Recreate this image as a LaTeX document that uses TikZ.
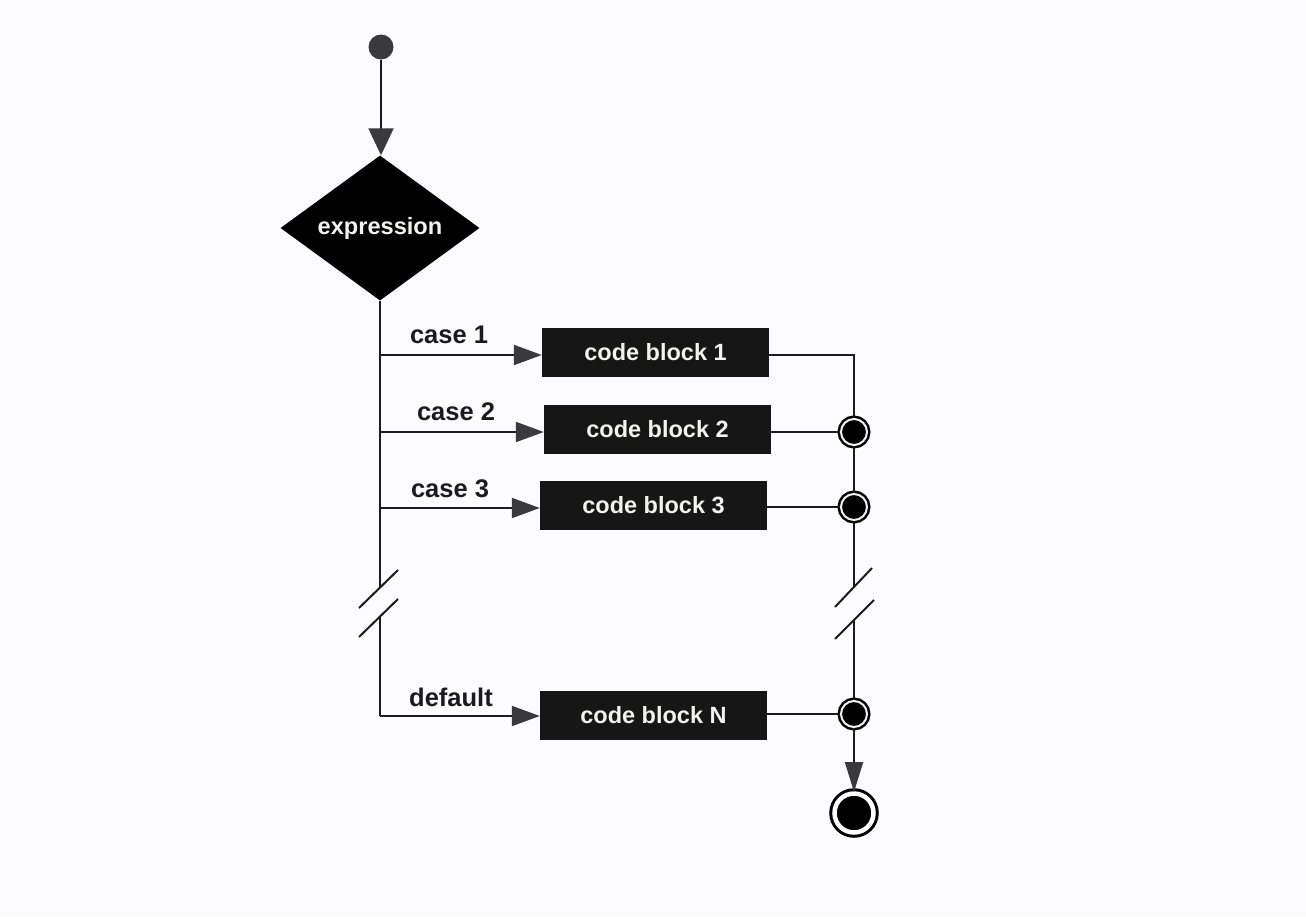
\documentclass[tikz,border=0pt]{standalone}
\usepackage{fontspec}
\setmainfont{Liberation Sans}
\usetikzlibrary{shapes.geometric,arrows.meta}
\definecolor{bgc}{HTML}{FCFCFE}
\definecolor{ink}{HTML}{1A1A1F}
\definecolor{tipc}{HTML}{3A3A3E}
\definecolor{boxc}{HTML}{161616}
\definecolor{txtw}{HTML}{F2F2EE}
\tikzset{
  ln/.style={draw=ink, line width=2pt},
  arr/.style={ln, -{Triangle[length=28pt,width=20pt,color=tipc]}},
  codebox/.style={rectangle, fill=boxc, minimum width=227pt, minimum height=49pt,
    inner sep=0pt, text=txtw, font=\bfseries\fontsize{23.5}{27}\selectfont},
  lbl/.style={text=ink, font=\bfseries\fontsize{25.5}{29}\selectfont, inner sep=0pt},
  junc/.style={circle, fill=black, draw=black, line width=2.5pt, double=txtw,
    double distance=2pt, minimum size=26pt, inner sep=0pt},
  endst/.style={circle, fill=black, draw=black, line width=3pt, double=white,
    double distance=4.5pt, minimum size=39pt, inner sep=0pt},
  startdot/.style={circle, fill=tipc, minimum size=25pt, inner sep=0pt},
  decision/.style={diamond, aspect=1.37, fill=black, minimum width=199pt,
    minimum height=145pt, inner sep=0pt, text=txtw,
    font=\bfseries\fontsize{23.6}{27}\selectfont},
  brk/.style={draw=ink, line width=2pt}
}
\begin{document}
\begin{tikzpicture}[x=1pt,y=-1pt]
\useasboundingbox (0,0) rectangle (1306,916);
\fill[bgc] (0,0) rectangle (1306,916);

% nodes
\node[startdot] (start) at (381,47) {};
\node[decision] (expr) at (380,228) {expression};
\node[codebox] (b1) at (655.5,352.5) {code block 1};
\node[codebox] (b2) at (657.5,429.5) {code block 2};
\node[codebox] (b3) at (653.5,505.5) {code block 3};
\node[codebox] (bN) at (653.5,715) {code block N};
\node[junc] (j2) at (854,432) {};
\node[junc] (j3) at (854,507) {};
\node[junc] (jN) at (854,714) {};
\node[endst] (fin) at (854,813) {};

% labels
\node[lbl] (l1) at (449,335) {case 1};
\node[lbl] (l2) at (456,412) {case 2};
\node[lbl] (l3) at (450,489) {case 3};
\node[lbl] (lN) at (451,697) {default};

% trunk coordinates
\coordinate (t1) at (380,355);
\coordinate (t2) at (380,432);
\coordinate (t3) at (380,508);
\coordinate (tb1) at (380,587);
\coordinate (tb2) at (380,617);
\coordinate (tN) at (380,716);
% right side coordinates
\coordinate (r1) at (854,355);
\coordinate (rb1) at (854,587);
\coordinate (rb2) at (854,620);

% start arrow
\draw[ln, -{Triangle[length=27pt,width=25pt,color=tipc]}] (start) -- (start |- expr.north);

% trunk
\draw[ln] (expr.south) -- (tb1);
\draw[ln] (tb2) -- (tN);
\draw[brk] (398,570) -- (359,608);
\draw[brk] (398,599) -- (359,637);

% case arrows
\draw[arr] (t1) -- (t1 -| b1.west);
\draw[arr] (t2) -- (t2 -| b2.west);
\draw[arr] (t3) -- (t3 -| b3.west);
\draw[arr] (tN) -- (tN -| bN.west);

% right side
\draw[ln] (r1 -| b1.east) -- (r1) -- (j2);
\draw[ln] (j2 -| b2.east) -- (j2);
\draw[ln] (j2) -- (j3);
\draw[ln] (j3 -| b3.east) -- (j3);
\draw[ln] (j3) -- (rb1);
\draw[ln] (rb2) -- (jN);
\draw[ln] (jN -| bN.east) -- (jN);
\draw[brk] (872,568) -- (835,607);
\draw[brk] (874,600) -- (835,639);
\draw[ln, -{Triangle[length=30pt,width=18pt,color=tipc]}] (jN) -- (fin);
\end{tikzpicture}
\end{document}
